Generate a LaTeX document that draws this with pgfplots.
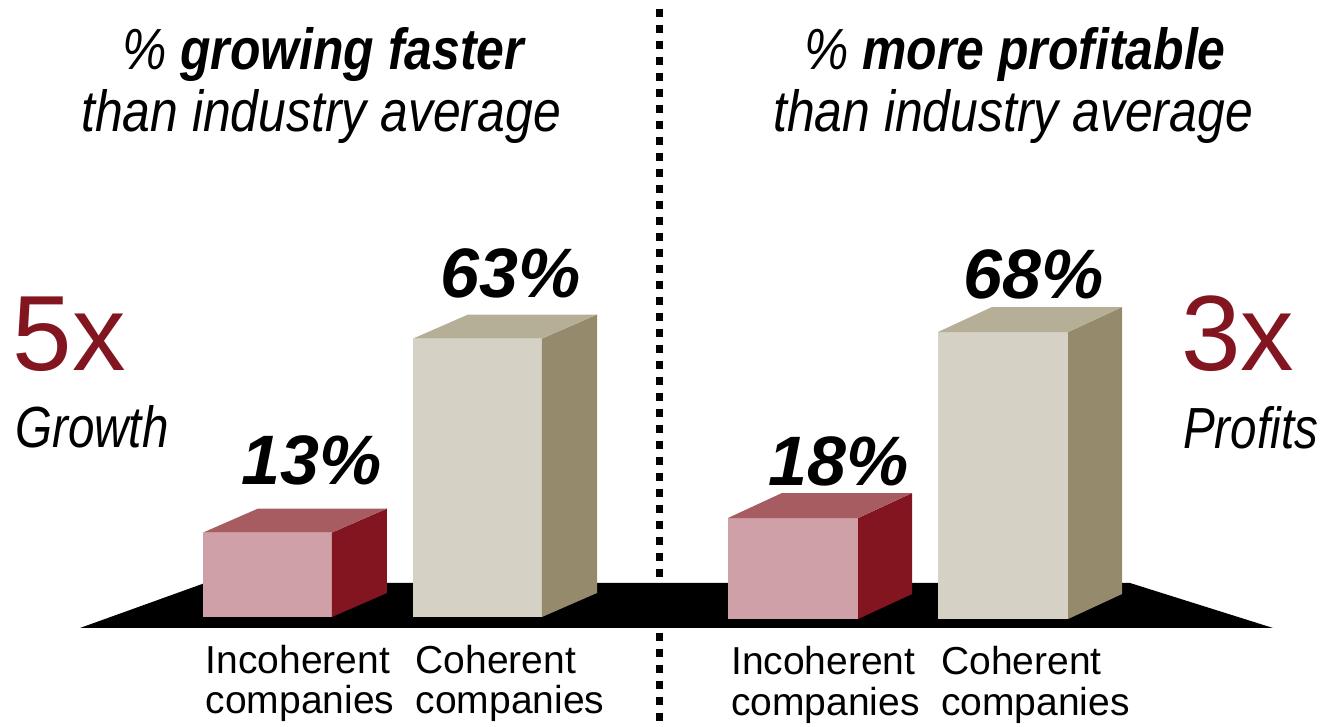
\documentclass[border=0pt]{standalone}
\usepackage{pgfplots}
\pgfplotsset{compat=1.18}
\usepackage{pgfplotstable}
\usepackage{fontspec}
\setmainfont{Liberation Sans}
\newfontfamily\narrow{Liberation Sans}[FakeStretch=0.82]
\newfontfamily\narrowb{Liberation Sans}[FakeStretch=0.86]
\definecolor{pinkF}{HTML}{CFA0A7}
\definecolor{pinkT}{HTML}{A75C62}
\definecolor{redS}{HTML}{82151F}
\definecolor{beigeF}{HTML}{D5D1C4}
\definecolor{beigeT}{HTML}{B5AF98}
\definecolor{beigeS}{HTML}{968A6C}
\definecolor{bigred}{HTML}{82151F}

\pgfplotstableread{
x v
0 13
1 63
}\growthdata
\pgfplotstableread{
x v
0 18
1 68
}\profitdata

\pgfplotsset{
  panel/.style={
    x=210pt, xmin=-1.2, xmax=1.8, ymin=-3, ymax=100,
    anchor=south west, clip=false,
    axis line style={draw=none}, tick style={draw=none},
    ytick=\empty, xtick={0,1},
    xticklabels={{Incoherent\\companies},{Coherent\\companies}},
    xticklabel style={font=\fontsize{39}{40.5}\selectfont, align=left,
      anchor=north west, inner sep=0pt, xshift=-62pt, yshift=-16pt},
  },
  valbar/.style={ybar, bar shift=0pt, draw=none,
    point meta=\thisrow{v},
    nodes near coords={\pgfmathprintnumber[assume math mode=true]{\pgfplotspointmeta}\%},
    every node near coord/.append style={font=\fontsize{70}{70}\selectfont\bfseries\itshape,
      inner sep=0pt, anchor=base, text=black}},
  first/.style={skip coords between index={1}{2}},
  second/.style={skip coords between index={0}{1}},
}

\begin{document}
\begin{tikzpicture}[x=1pt,y=1pt]
\path[use as bounding box] (0,0) rectangle (1327,727);
% floor
\fill[black] (80,99) -- (1273,99) -- (1130,144) -- (205,144) -- cycle;
% divider
\draw[line width=7.5pt, dash pattern=on 8pt off 8pt] (659.5,718) -- (659.5,0);

% titles
\node[anchor=base, inner sep=0pt, font=\narrowb\fontsize{58}{58}\selectfont\itshape] at (323,657) {\% \textbf{growing faster}};
\node[anchor=base, inner sep=0pt, font=\narrowb\fontsize{58}{58}\selectfont\itshape] at (321,595) {than industry average};
\node[anchor=base, inner sep=0pt, font=\narrowb\fontsize{58}{58}\selectfont\itshape] at (1015,657) {\% \textbf{more profitable}};
\node[anchor=base, inner sep=0pt, font=\narrowb\fontsize{58}{58}\selectfont\itshape] at (1013,595) {than industry average};

% side texts
\node[anchor=base west, inner sep=0pt, text=bigred, font=\fontsize{107}{107}\selectfont] at (12.5,356) {5x};
\node[anchor=base west, inner sep=0pt, font=\narrow\fontsize{58}{58}\selectfont\itshape] at (15,279) {Growth};
\node[anchor=base west, inner sep=0pt, text=bigred, font=\fontsize{107}{107}\selectfont] at (1181,356) {3x};
\node[anchor=base west, inner sep=0pt, font=\narrow\fontsize{58}{58}\selectfont\itshape] at (1183,278) {Profits};

% left panel
\begin{axis}[panel, y=3.88pt, at={(15.5pt,98.36pt)}]
\addplot[valbar, fill=pinkF, bar width=0.614, first,
  nodes near coords style={xshift=44.5pt, yshift=48pt}]
  table[x=x, y expr=\thisrow{v}+8.76] {\growthdata};
\addplot[fill=redS, draw=none] coordinates {(0.307,0) (0.569,6.19) (0.569,27.95) (0.307,21.76)};
\addplot[fill=pinkT, draw=none] coordinates {(-0.307,21.76) (0.307,21.76) (0.569,27.95) (-0.045,27.95)};
\addplot[valbar, fill=beigeF, bar width=0.614, second,
  nodes near coords style={xshift=33.5pt, yshift=40.6pt}]
  table[x=x, y expr=\thisrow{v}+8.76] {\growthdata};
\addplot[fill=beigeS, draw=none] coordinates {(1.307,0) (1.569,6.19) (1.569,77.95) (1.307,71.76)};
\addplot[fill=beigeT, draw=none] coordinates {(0.693,71.76) (1.307,71.76) (1.569,77.95) (0.955,77.95)};
\end{axis}

% right panel
\begin{axis}[panel, y=3.72pt, at={(541pt,96.84pt)}]
\addplot[valbar, fill=pinkF, bar width=0.62, first,
  nodes near coords style={xshift=46pt, yshift=33pt}]
  table[x=x, y expr=\thisrow{v}+9.14] {\profitdata};
\addplot[fill=redS, draw=none] coordinates {(0.31,0) (0.567,6.72) (0.567,33.86) (0.31,27.14)};
\addplot[fill=pinkT, draw=none] coordinates {(-0.31,27.14) (0.31,27.14) (0.567,33.86) (-0.053,33.86)};
\addplot[valbar, fill=beigeF, bar width=0.62, second,
  nodes near coords style={xshift=31pt, yshift=34pt}]
  table[x=x, y expr=\thisrow{v}+9.14] {\profitdata};
\addplot[fill=beigeS, draw=none] coordinates {(1.31,0) (1.567,6.72) (1.567,83.86) (1.31,77.14)};
\addplot[fill=beigeT, draw=none] coordinates {(0.69,77.14) (1.31,77.14) (1.567,83.86) (0.947,83.86)};
\end{axis}
\end{tikzpicture}
\end{document}
